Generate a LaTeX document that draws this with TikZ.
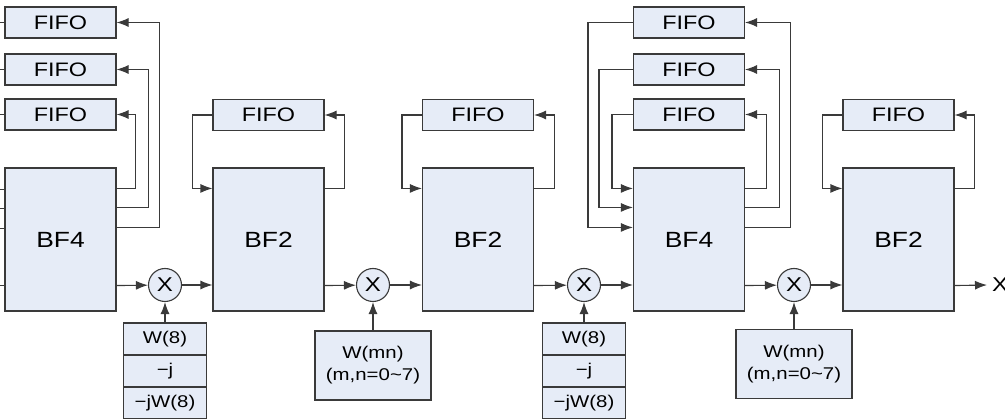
\documentclass[tikz,border=0pt]{standalone}
\usepackage{fontspec}
\setmainfont[FakeStretch=1.2]{Liberation Sans}
\usetikzlibrary{arrows.meta}
\definecolor{boxfill}{HTML}{E6ECF7}
\definecolor{linegray}{HTML}{3A3A3A}
\tikzset{>={Latex[length=12pt,width=9pt]}}
\tikzset{
  unit/.style = {draw=linegray, fill=boxfill, line width=1.1pt, inner sep=0pt},
  fifo/.style = {unit, minimum width=111pt, minimum height=31pt, font=\fontsize{19.5}{22}\selectfont},
  bf/.style = {unit, minimum width=111pt, minimum height=143pt, font=\fontsize{22}{24}\selectfont},
  mult/.style = {unit, circle, minimum size=33pt, font=\fontsize{20}{22}\selectfont},
  coef/.style = {unit, minimum width=83pt, minimum height=32pt, font=\fontsize{17}{19}\selectfont},
  twid/.style = {unit, minimum width=116pt, minimum height=69pt, align=center, font=\fontsize{17}{22}\selectfont},
  wire/.style = {draw=linegray, line width=1.1pt}
}

\begin{document}
\begin{tikzpicture}[x=1pt,y=-1pt]
  \useasboundingbox (0,0) rectangle (1005,419);
  % butterflies
  \node[bf] (bfa) at (60.5,239.5) {BF4};
  \node[bf] (bfb) at (268.5,239.5) {BF2};
  \node[bf] (bfc) at (478,239.5) {BF2};
  \node[bf] (bfd) at (689,239.5) {BF4};
  \node[bf] (bfe) at (898.5,239.5) {BF2};
  % fifos
  \foreach \i/\y in {1/22.5,2/69.5,3/114.5} {
    \node[fifo] (fa\i) at (60.5,\y) {FIFO};
    \node[fifo] (fd\i) at (689,\y) {FIFO};
  }
  \node[fifo] (fb) at (268.5,115) {FIFO};
  \node[fifo] (fc) at (478,115) {FIFO};
  \node[fifo] (fe) at (898.5,115) {FIFO};
  % multipliers
  \node[mult] (m1) at (165,285) {X};
  \node[mult] (m2) at (373,285) {X};
  \node[mult] (m3) at (584,285) {X};
  \node[mult] (m4) at (794,285) {X};
  % twiddle factors
  \foreach \c/\x in {a/165,c/584} {
    \node[coef] (c\c1) at (\x,339) {W(8)};
    \node[coef] (c\c2) at (\x,371) {−j};
    \node[coef] (c\c3) at (\x,403) {−jW(8)};
  }
  \node[twid] (cb) at (373,365.5) {W(mn)\\(m,n=0\textasciitilde7)};
  \node[twid] (cd) at (794,364) {W(mn)\\(m,n=0\textasciitilde7)};
  \node[anchor=west, inner sep=5pt, font=\fontsize{20}{22}\selectfont] (xout) at (987,285) {X};
  % cut wires on the left
  \foreach \i/\y in {1/22.5,2/69.5,3/114.5,4/189,5/208,6/228,7/285} {
    \coordinate (cut\i) at (0,\y);
    \draw[wire,line width=0.6pt] (cut\i) -- (cut\i -| bfa.west);
  }
  % bf4 feedback
  \foreach \i/\s/\d in {1/60/43,2/40/32,3/21/19} {
    \draw[wire,->] ([yshift=-\s]bfa.north east) -| ([xshift=\d]fa\i.east) -- (fa\i.east);
    \draw[wire,->] ([yshift=-\s]bfd.north east) -| ([xshift=\d+2]fd\i.east) -- (fd\i.east);
    \draw[wire,->] (fd\i.west) -- ([xshift=-\d-2]fd\i.west) |- ([yshift=-\s]bfd.north west);
  }
  % bf2 feedback
  \foreach \b/\f in {bfb/fb,bfc/fc,bfe/fe} {
    \draw[wire,->] ([yshift=-21]\b.north east) -| ([xshift=20]\f.east) -- (\f.east);
    \draw[wire,->] (\f.west) -- ([xshift=-20]\f.west) |- ([yshift=-21]\b.north west);
  }
  % main path
  \draw[wire,->] ([yshift=26]bfa.south east) -- (m1);
  \draw[wire,->] (m1) -- (m1 -| bfb.west);
  \draw[wire,->] ([yshift=26]bfb.south east) -- (m2);
  \draw[wire,->] (m2) -- (m2 -| bfc.west);
  \draw[wire,->] ([yshift=26]bfc.south east) -- (m3);
  \draw[wire,->] (m3) -- (m3 -| bfd.west);
  \draw[wire,->] ([yshift=26]bfd.south east) -- (m4);
  \draw[wire,->] (m4) -- (m4 -| bfe.west);
  \draw[wire,->] ([yshift=26]bfe.south east) -- (xout.west);
  % twiddle inputs
  \draw[wire,->] (ca1.north) -- (m1);
  \draw[wire,->] (cb.north) -- (m2);
  \draw[wire,->] (cc1.north) -- (m3);
  \draw[wire,->] (cd.north) -- (m4);
\end{tikzpicture}
\end{document}
